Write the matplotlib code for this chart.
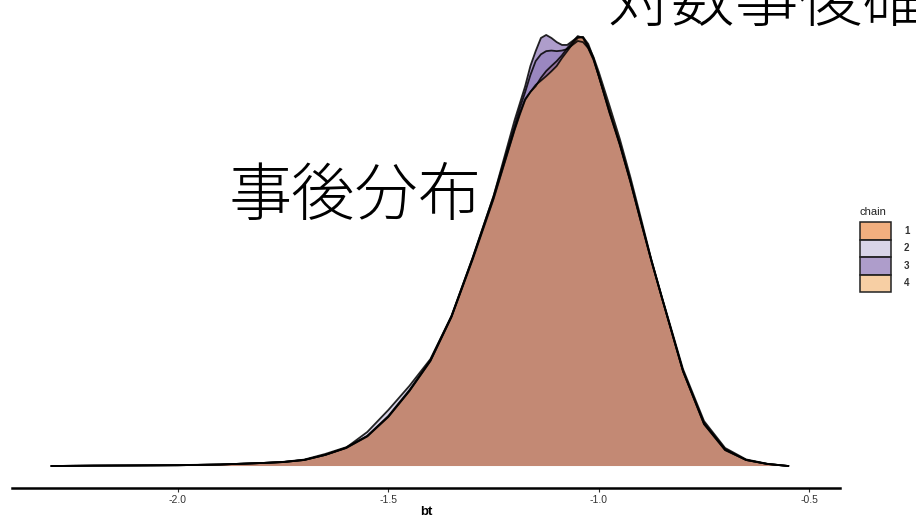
import matplotlib
matplotlib.use("Agg")
import matplotlib.pyplot as plt
from matplotlib.patches import Rectangle

plt.rcParams['font.family'] = ['Liberation Sans', 'DejaVu Sans']

# Posterior draws of bt: kernel density per chain on a shared grid
bt_grid = [-2.30, -2.20, -2.10, -2.00, -1.90, -1.80, -1.75, -1.70, -1.65, -1.60,
           -1.55, -1.50, -1.45, -1.40, -1.35, -1.30, -1.25, -1.20, -1.1875, -1.175,
           -1.1625, -1.15, -1.1375, -1.125, -1.1125, -1.10, -1.0875, -1.075, -1.0625, -1.05,
           -1.0375, -1.025, -1.0125, -1.00, -0.975, -0.95, -0.925, -0.90, -0.875, -0.85,
           -0.80, -0.75, -0.70, -0.65, -0.60, -0.55]

dens_chain1 = [0.000, 0.002, 0.003, 0.004, 0.008, 0.016, 0.022, 0.034, 0.064, 0.100,
               0.160, 0.263, 0.399, 0.559, 0.793, 1.101, 1.426, 1.793, 1.878, 1.952,
               1.990, 2.020, 2.065, 2.101, 2.128, 2.154, 2.185, 2.223, 2.255, 2.287,
               2.277, 2.223, 2.165, 2.074, 1.894, 1.713, 1.516, 1.303, 1.090, 0.894,
               0.505, 0.223, 0.085, 0.032, 0.011, 0.000]
dens_chain2 = [0.000, 0.002, 0.003, 0.004, 0.008, 0.016, 0.021, 0.032, 0.059, 0.098,
               0.181, 0.298, 0.426, 0.569, 0.798, 1.106, 1.436, 1.809, 1.905, 1.989,
               2.080, 2.154, 2.190, 2.207, 2.210, 2.207, 2.210, 2.218, 2.240, 2.261,
               2.255, 2.223, 2.160, 2.074, 1.883, 1.707, 1.511, 1.298, 1.090, 0.894,
               0.505, 0.229, 0.090, 0.032, 0.011, 0.000]
dens_chain3 = [0.000, 0.002, 0.003, 0.005, 0.008, 0.016, 0.021, 0.032, 0.059, 0.096,
               0.160, 0.266, 0.404, 0.564, 0.798, 1.106, 1.436, 1.840, 1.930, 2.020,
               2.128, 2.207, 2.277, 2.293, 2.277, 2.255, 2.240, 2.240, 2.261, 2.282,
               2.282, 2.245, 2.170, 2.074, 1.883, 1.713, 1.516, 1.303, 1.096, 0.899,
               0.516, 0.239, 0.096, 0.035, 0.012, 0.000]
dens_chain4 = [0.000, 0.002, 0.003, 0.004, 0.008, 0.016, 0.021, 0.032, 0.059, 0.096,
               0.157, 0.261, 0.399, 0.559, 0.793, 1.096, 1.420, 1.787, 1.870, 1.947,
               1.990, 2.027, 2.050, 2.074, 2.100, 2.128, 2.170, 2.207, 2.245, 2.277,
               2.282, 2.234, 2.175, 2.096, 1.920, 1.739, 1.537, 1.319, 1.096, 0.894,
               0.505, 0.223, 0.085, 0.032, 0.011, 0.000]

chain_labels = ['1', '2', '3', '4']
chain_colors = ['#E66101', '#B2ABD2', '#5E3C99', '#F0A04A']
chain_dens = [dens_chain1, dens_chain2, dens_chain3, dens_chain4]

xticks = [-2.0, -1.5, -1.0, -0.5]
xtick_labels = ['-2.0', '-1.5', '-1.0', '-0.5']

W, H = 916, 518
fig = plt.figure(figsize=(W / 100, H / 100), dpi=100)
ax = fig.add_axes([12 / W, 30 / H, (840 - 12) / W, (H - 30) / H])

for dens, col in zip(chain_dens, chain_colors):
    ax.fill_between(bt_grid, 0, dens, facecolor=col, alpha=0.5, linewidth=0)
for dens in chain_dens:
    ax.plot(bt_grid, dens, color='black', lw=1.3, alpha=0.85,
            solid_joinstyle='round')

ax.set_xlim(-2.394, -0.427)
ax.set_ylim(-0.117, 2.479)

for s in ['top', 'right', 'left']:
    ax.spines[s].set_visible(False)
ax.spines['bottom'].set_linewidth(1.8)
ax.spines['bottom'].set_color('black')
ax.set_yticks([])
ax.set_xticks(xticks)
ax.set_xticklabels(xtick_labels, fontsize=7.5, color='#333333')
ax.tick_params(axis='x', length=3, width=0.8, color='#333333', pad=2)
ax.set_xlabel('bt', fontsize=9.5, fontweight='bold', labelpad=1)

# Legend for chains
fig.text(860 / W, 1 - 212 / H, 'chain', fontsize=8, color='#222222',
         ha='left', va='center')
key_w, key_h = 31, 17.5
for i, (lab, col) in enumerate(zip(chain_labels, chain_colors)):
    top = 222 + i * key_h
    fig.patches.append(Rectangle((860 / W, 1 - (top + key_h) / H), key_w / W, key_h / H,
                                 transform=fig.transFigure, facecolor=col, alpha=0.5,
                                 edgecolor='none'))
    fig.patches.append(Rectangle((860 / W, 1 - (top + key_h) / H), key_w / W, key_h / H,
                                 transform=fig.transFigure, facecolor='none',
                                 edgecolor='#222222', lw=1.1))
    fig.text(904 / W, 1 - (top + key_h / 2) / H, lab, fontsize=7, color='#333333',
             fontweight='bold', ha='left', va='center')

# Annotations
jp = ['Noto Sans CJK JP', 'DejaVu Sans']
fig.text(229 / W, 1 - 197 / H, '事後分布', fontsize=45.5, family=jp,
         fontweight='light', ha='left', va='center', color='black')
fig.text(607 / W, 1 - 3 / H, '対数事後確率', fontsize=46, family=jp,
         fontweight='light', ha='left', va='center', color='black')

fig.savefig('out.png', dpi=100)
